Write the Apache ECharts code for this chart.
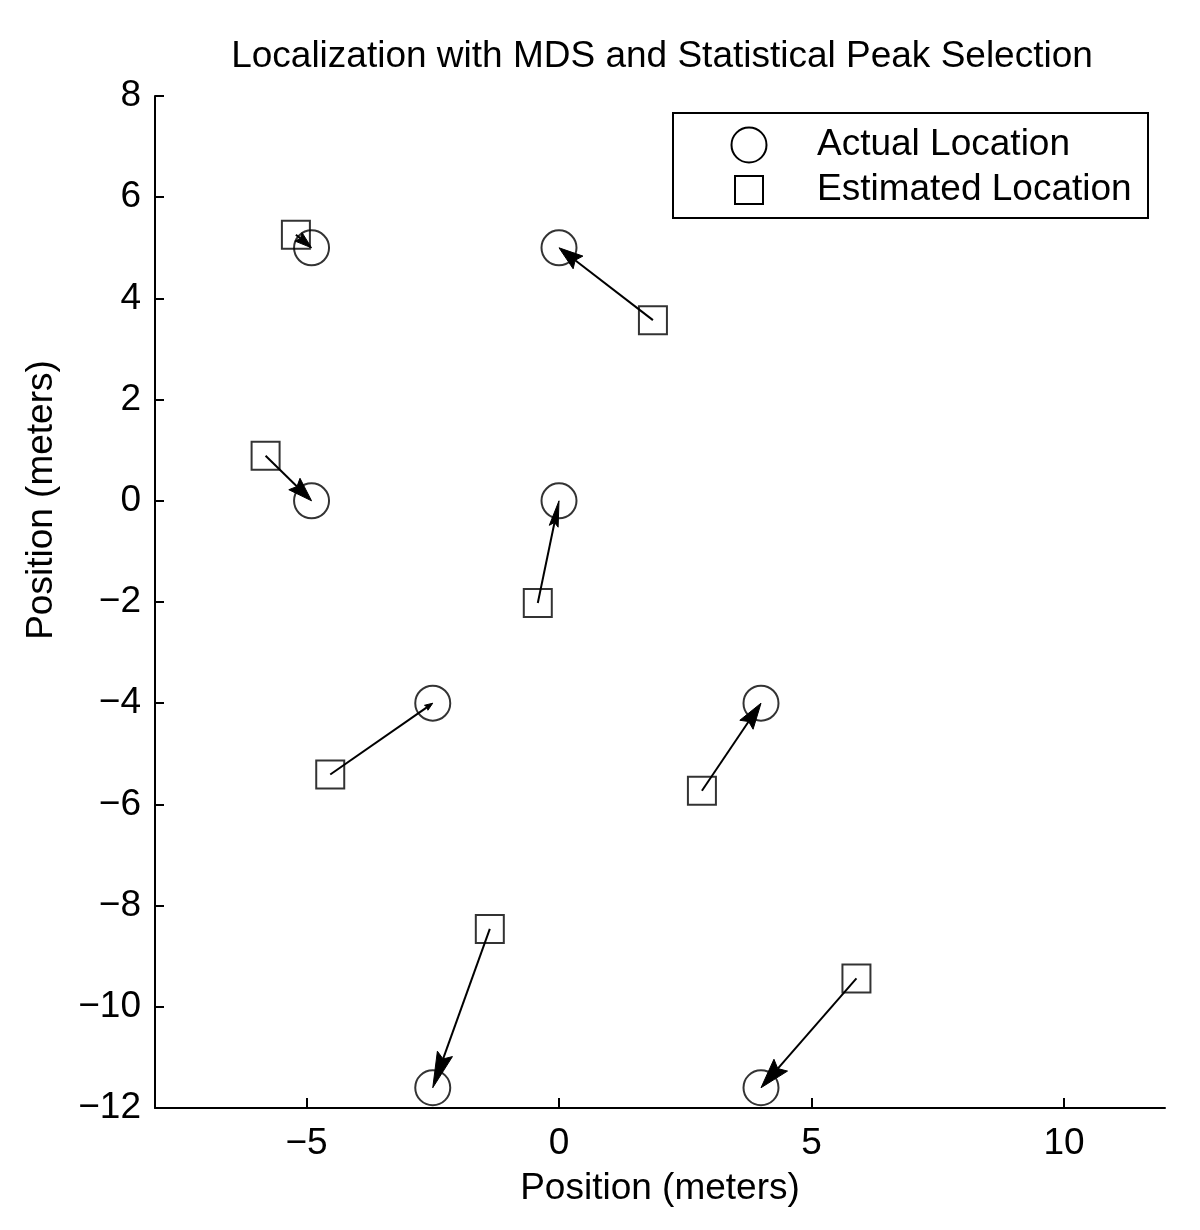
<!DOCTYPE html>
<html>
<head>
<meta charset="utf-8">
<script src="https://cdn.jsdelivr.net/npm/echarts@6/dist/echarts.min.js"></script>
<style>
  html, body { margin: 0; padding: 0; background: #fff; }
  #main { width: 1200px; height: 1230px; }
</style>
</head>
<body>
<div id="main"></div>
<script>
// 数据
const actualX = [-4.9, 0, -4.9, 0, -2.5, 4, -2.5, 4];
const actualY = [5, 5, 0, 0, -4, -4, -11.6, -11.6];
const estX = [-5.21, 1.86, -5.81, -0.42, -4.53, 2.83, -1.37, 5.89];
const estY = [5.26, 3.57, 0.89, -2.02, -5.41, -5.73, -8.46, -9.44];
const xTicks = [-5, 0, 5, 10];

// 箭头大小（样式）：[长度, 宽度]
const headStyle = [[17, 11], [24, 16], [24, 16], [26, 9], [8, 6], [26, 16], [36, 16], [30, 18]];

const FONT = '"Liberation Sans", Arial, Helvetica, sans-serif';
const FS = 37;
const minus = v => String(v).replace('-', '\u2212');

const actualData = actualX.map((x, i) => [x, actualY[i]]);
const estData = estX.map((x, i) => [x, estY[i]]);
const arrowData = estX.map((x, i) => [x, estY[i], actualX[i], actualY[i]]);

function renderArrow(params, api) {
  const p0 = api.coord([api.value(0), api.value(1)]);
  const p1 = api.coord([api.value(2), api.value(3)]);
  const dx = p1[0] - p0[0], dy = p1[1] - p0[1];
  const len = Math.sqrt(dx * dx + dy * dy);
  const ux = dx / len, uy = dy / len;
  const nx = -uy, ny = ux;
  const hl = headStyle[params.dataIndex][0];
  const hw = headStyle[params.dataIndex][1] / 2;
  const bx = p1[0] - ux * hl, by = p1[1] - uy * hl;
  const kx = p1[0] - ux * hl * 0.85, ky = p1[1] - uy * hl * 0.85;
  return {
    type: 'group',
    children: [
      {
        type: 'line',
        shape: { x1: p0[0], y1: p0[1], x2: kx, y2: ky },
        style: { stroke: '#000', lineWidth: 2 }
      },
      {
        type: 'polygon',
        shape: { points: [p1, [bx + nx * hw, by + ny * hw], [kx, ky], [bx - nx * hw, by - ny * hw]] },
        style: { fill: '#000', stroke: '#000', lineWidth: 1 }
      }
    ]
  };
}

const option = {
  animation: false,
  backgroundColor: '#fff',
  title: {
    text: 'Localization with MDS and Statistical Peak Selection',
    left: 657,
    top: 33,
    textAlign: 'center',
    textStyle: { fontFamily: FONT, fontSize: FS, fontWeight: 'normal', color: '#000' }
  },
  grid: { left: 155, right: 35, top: 96, bottom: 122, containLabel: false, outerBoundsMode: 'none' },
  xAxis: {
    type: 'value',
    min: -8,
    max: 12,
    name: 'Position (meters)',
    nameLocation: 'middle',
    nameGap: 62,
    nameTextStyle: { fontFamily: FONT, fontSize: FS, color: '#000' },
    axisLine: { onZero: false, lineStyle: { color: '#000', width: 2 } },
    axisTick: { inside: true, length: 10, customValues: xTicks, lineStyle: { color: '#000', width: 2 } },
    axisLabel: { customValues: xTicks, margin: 17, formatter: minus, fontFamily: FONT, fontSize: FS, color: '#000' },
    splitLine: { show: false }
  },
  yAxis: {
    type: 'value',
    min: -12,
    max: 8,
    interval: 2,
    axisLine: { onZero: false, lineStyle: { color: '#000', width: 2 } },
    axisTick: { inside: true, length: 9, lineStyle: { color: '#000', width: 2 } },
    axisLabel: { margin: 14, formatter: minus, fontFamily: FONT, fontSize: FS, color: '#000' },
    splitLine: { show: false }
  },
  graphic: [
    {
      type: 'text',
      x: 42,
      y: 500,
      rotation: Math.PI / 2,
      style: {
        text: 'Position (meters)',
        x: 0, y: 0,
        textAlign: 'center',
        textVerticalAlign: 'middle',
        font: FS + 'px ' + FONT,
        fill: '#000'
      }
    },
    {
      type: 'group',
      left: 672,
      top: 112,
      z: 100,
      children: [
        { type: 'rect', shape: { x: 0, y: 0, width: 475, height: 105 }, style: { fill: '#fff', stroke: '#000', lineWidth: 2 } },
        { type: 'circle', shape: { cx: 76, cy: 32, r: 17.5 }, style: { fill: 'none', stroke: '#000', lineWidth: 2 } },
        { type: 'rect', shape: { x: 62, y: 63, width: 28, height: 28 }, style: { fill: 'none', stroke: '#000', lineWidth: 2 } },
        { type: 'text', x: 144, y: 32, style: { text: 'Actual Location', textVerticalAlign: 'middle', font: FS + 'px ' + FONT, fill: '#000' } },
        { type: 'text', x: 144, y: 77, style: { text: 'Estimated Location', textVerticalAlign: 'middle', font: FS + 'px ' + FONT, fill: '#000' } }
      ]
    }
  ],
  series: [
    {
      name: 'Estimated Location',
      type: 'scatter',
      symbol: 'rect',
      symbolSize: 28,
      data: estData,
      itemStyle: { color: 'rgba(0,0,0,0)', borderColor: '#000', borderWidth: 2 },
      z: 2
    },
    {
      name: 'Actual Location',
      type: 'scatter',
      symbol: 'circle',
      symbolSize: 35,
      data: actualData,
      itemStyle: { color: 'rgba(0,0,0,0)', borderColor: '#000', borderWidth: 2 },
      z: 3
    },
    {
      name: 'arrows',
      type: 'custom',
      renderItem: renderArrow,
      encode: { x: [0, 2], y: [1, 3] },
      data: arrowData,
      z: 4
    }
  ]
};

const myChart = echarts.init(document.getElementById('main'));
myChart.setOption(option);
</script>
</body>
</html>
